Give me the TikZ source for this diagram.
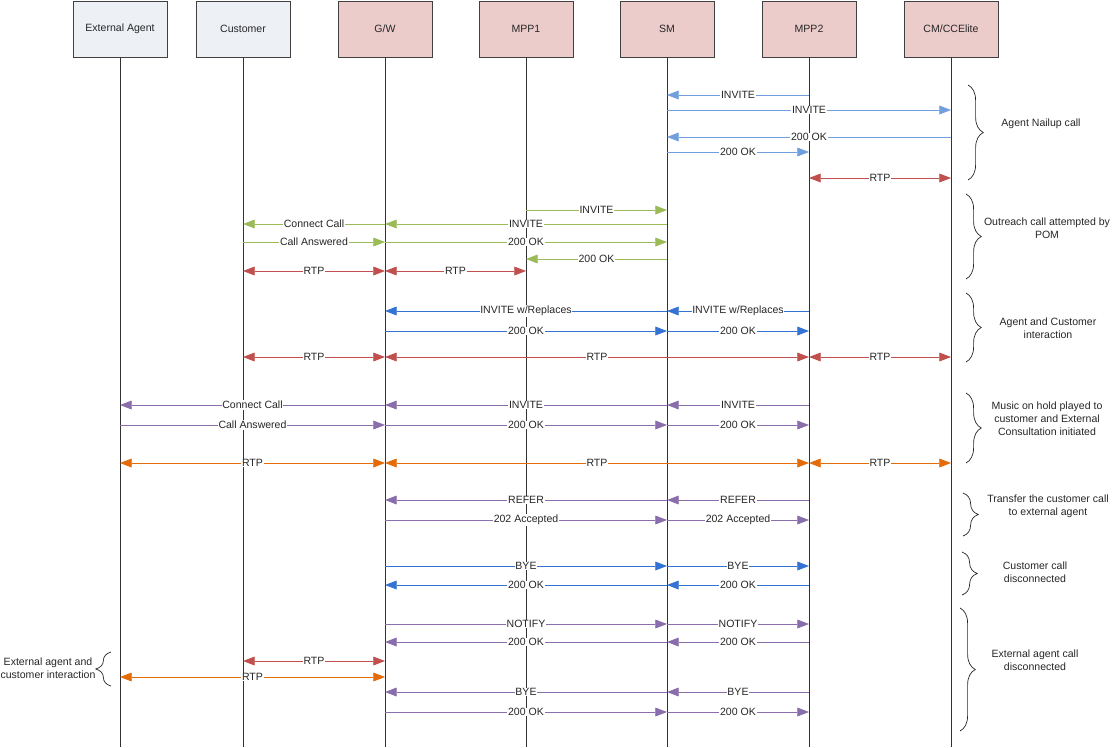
\documentclass[tikz,border=0pt]{standalone}
\usepackage{fontspec}
\setmainfont{Liberation Sans}
\usetikzlibrary{arrows.meta,decorations.pathreplacing}
\definecolor{headblue}{RGB}{237,240,245}
\definecolor{headpink}{RGB}{236,204,203}
\definecolor{lblue}{RGB}{112,158,222}
\definecolor{dblue}{RGB}{52,114,212}
\definecolor{sipgreen}{RGB}{155,187,89}
\definecolor{rtpred}{RGB}{192,80,77}
\definecolor{sippurple}{RGB}{138,110,172}
\definecolor{rtporange}{RGB}{227,108,9}
\tikzset{
    head-box/.style = {draw=black!75, rectangle, minimum width=2.82cm, minimum height=1.68cm, inner sep=0pt, font=\fontsize{9}{11}\selectfont, text=black!85},
    ext-head/.style = {head-box, fill=headblue},
    sys-head/.style = {head-box, fill=headpink},
    lifeline/.style = {draw=black!80, line width=0.8pt},
    msg/.style = {line width=0.7pt, -{Triangle[length=10pt,width=7.5pt]}},
    rtp/.style = {line width=0.7pt, {Triangle[length=10pt,width=7.5pt]}-{Triangle[length=10pt,width=7.5pt]}},
    msg-label/.style = {fill=white, inner sep=0.6pt, font=\fontsize{9}{10}\selectfont, text=black!85},
    group-brace/.style = {decorate, decoration={brace, amplitude=13pt}, draw=black!85, line width=0.6pt},
    group-note/.style = {align=center, font=\fontsize{9}{11}\selectfont, text=black!85},
}

\begin{document}
\begin{tikzpicture}[x=0.03cm, y=-0.03cm]
\useasboundingbox (0,0) rectangle (1115,747);

% heads and lifelines
\node[ext-head] (ext)  at (120,29) {External Agent};
\node[ext-head] (cust) at (243,29) {Customer};
\node[sys-head] (gw)   at (385,29) {G/W};
\node[sys-head] (mpp1) at (526,29) {MPP1};
\node[sys-head] (sm)   at (667,29) {SM};
\node[sys-head] (mpp2) at (809,29) {MPP2};
\node[sys-head] (cm)   at (951,29) {CM/CCElite};
\foreach \n in {ext,cust,gw,mpp1,sm,mpp2,cm}
    \draw[lifeline] (\n.south) -- (\n |- 0,747);

% agent nailup
\foreach \y/\a/\b/\t in {95/mpp2/sm/INVITE, 110/sm/cm/INVITE, 137/cm/sm/200 OK, 152/sm/mpp2/200 OK}
    \draw[msg, lblue] (\a |- 0,\y) -- node[msg-label] {\t} (\b |- 0,\y);

% outreach call
\foreach \y/\a/\b/\t in {210/mpp1/sm/INVITE, 224/sm/gw/INVITE, 224/gw/cust/Connect Call,
    242/cust/gw/Call Answered, 242/gw/sm/200 OK, 259/sm/mpp1/200 OK}
    \draw[msg, sipgreen] (\a |- 0,\y) -- node[msg-label] {\t} (\b |- 0,\y);

% replaces and disconnect
\foreach \y/\a/\b/\t in {311/mpp2/sm/{INVITE w/Replaces}, 311/sm/gw/{INVITE w/Replaces},
    331/gw/sm/200 OK, 331/sm/mpp2/200 OK, 566/gw/sm/BYE, 566/sm/mpp2/BYE,
    585/mpp2/sm/200 OK, 585/sm/gw/200 OK}
    \draw[msg, dblue] (\a |- 0,\y) -- node[msg-label] {\t} (\b |- 0,\y);

% consultation, transfer, release
\foreach \y/\a/\b/\t in {405/mpp2/sm/INVITE, 405/sm/gw/INVITE, 405/gw/ext/Connect Call,
    425/ext/gw/Call Answered, 425/gw/sm/200 OK, 425/sm/mpp2/200 OK,
    500/mpp2/sm/REFER, 500/sm/gw/REFER, 520/gw/sm/202 Accepted, 520/sm/mpp2/202 Accepted,
    624/gw/sm/NOTIFY, 624/sm/mpp2/NOTIFY, 642/mpp2/sm/200 OK, 642/sm/gw/200 OK,
    692/mpp2/sm/BYE, 692/sm/gw/BYE, 712/gw/sm/200 OK, 712/sm/mpp2/200 OK}
    \draw[msg, sippurple] (\a |- 0,\y) -- node[msg-label] {\t} (\b |- 0,\y);

% media streams
\foreach \y/\a/\b in {178/mpp2/cm, 271/cust/gw, 271/gw/mpp1, 357/cust/gw, 357/gw/mpp2, 357/mpp2/cm, 661/cust/gw}
    \draw[rtp, rtpred] (\a |- 0,\y) -- node[msg-label] {RTP} (\b |- 0,\y);
\foreach \y/\a/\b in {463/ext/gw, 463/gw/mpp2, 463/mpp2/cm, 677/ext/gw}
    \draw[rtp, rtporange] (\a |- 0,\y) -- node[msg-label] {RTP} (\b |- 0,\y);

% phase braces
\draw[group-brace] (968,85) -- (968,180);
\node[group-note] (nailup) at (1041,124) {Agent Nailup call};
\draw[group-brace] (966,194) -- (966,279);
\node[group-note] (outreach) at (1047,228) {Outreach call attempted by\\POM};
\draw[group-brace] (966,293) -- (966,362);
\node[group-note] (interact) at (1048,328) {Agent and Customer\\interaction};
\draw[group-brace] (966,393) -- (966,463);
\node[group-note] (moh) at (1047,419) {Music on hold played to\\customer and External\\Consultation initiated};
\draw[group-brace] (963,493) -- (963,536);
\node[group-note] (transfer) at (1048,506) {Transfer the customer call\\to external agent};
\draw[group-brace] (962,552) -- (962,595);
\node[group-note] (custbye) at (1035,572) {Customer call\\disconnected};
\draw[group-brace] (960,608) -- (960,731);
\node[group-note] (extbye) at (1035,660) {External agent call\\disconnected};
\draw[group-brace] (111,686) -- (111,652);
\node[group-note] (extcust) at (48,668) {External agent and\\customer interaction};
\end{tikzpicture}
\end{document}
